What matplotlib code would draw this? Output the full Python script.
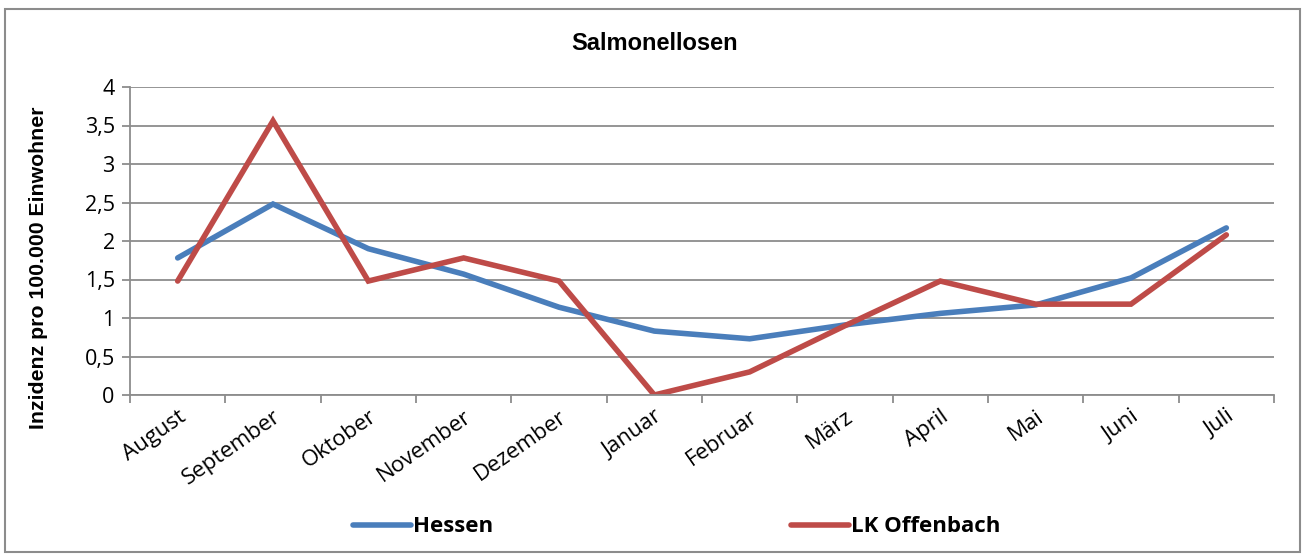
import matplotlib
matplotlib.use('Agg')
import matplotlib.pyplot as plt
from matplotlib.patches import Rectangle
from matplotlib.ticker import FuncFormatter, MultipleLocator, FixedLocator

# Monate und Inzidenzen (pro 100.000 Einwohner)
monate = ['August', 'September', 'Oktober', 'November', 'Dezember', 'Januar',
          'Februar', 'März', 'April', 'Mai', 'Juni', 'Juli']
hessen = [1.78, 2.48, 1.90, 1.57, 1.14, 0.83, 0.73, 0.91, 1.06, 1.17, 1.52, 2.17]
offenbach = [1.48, 3.56, 1.48, 1.78, 1.48, 0.0, 0.30, 0.90, 1.48, 1.18, 1.18, 2.08]

W, H = 1307, 556
fig = plt.figure(figsize=(W / 100, H / 100), dpi=100)
ax = fig.add_axes([130 / W, 1 - 395 / H, (1274 - 130) / W, (395 - 87) / H])

x = list(range(len(monate)))
ax.plot(x, hessen, color='#4a7ebb', lw=4, solid_capstyle='round', solid_joinstyle='miter', label='Hessen')
ax.plot(x, offenbach, color='#be4b48', lw=4, solid_capstyle='round', solid_joinstyle='miter', label='LK Offenbach')

ax.set_xlim(-0.5, len(monate) - 0.5)
ax.set_ylim(0, 4)
ax.yaxis.set_major_locator(MultipleLocator(0.5))
ax.yaxis.set_major_formatter(FuncFormatter(lambda v, p: ('%g' % v).replace('.', ',')))
ax.grid(axis='y', color='#8c8c8c', lw=1.3)
ax.set_axisbelow(True)

# Kategorien: Striche zwischen den Monaten
ax.xaxis.set_major_locator(FixedLocator(x))
ax.set_xticklabels(monate, rotation=35, ha='right', rotation_mode='anchor',
                   family='Open Sans', fontsize=16)
ax.xaxis.set_minor_locator(FixedLocator([i - 0.5 for i in range(len(monate) + 1)]))
ax.tick_params(axis='x', which='major', length=0, pad=8)
ax.tick_params(axis='x', which='minor', length=6, color='#8c8c8c', width=1.3)
ax.tick_params(axis='y', length=6, color='#8c8c8c', width=1.3, labelsize=15.5, pad=5)
for lab in ax.get_yticklabels():
    lab.set_family('Open Sans')

for s in ['top', 'right']:
    ax.spines[s].set_visible(False)
for s in ['left', 'bottom']:
    ax.spines[s].set_color('#8c8c8c')
    ax.spines[s].set_linewidth(1.3)

ax.set_ylabel('Inzidenz pro 100.000 Einwohner', family='Liberation Sans',
              fontweight='bold', fontsize=15.3, va='center')
ax.yaxis.set_label_coords((39 - 130) / 1144, (395 - 268) / 308)
fig.text(655 / W, 1 - 43 / H, 'Salmonellosen', ha='center', va='center',
         family='Liberation Sans', fontweight='bold', fontsize=17)

fig.legend(loc='center', bbox_to_anchor=(677 / W, 1 - 527 / H), ncol=2, frameon=False,
           handlelength=2.6, handletextpad=0.1, columnspacing=13.4,
           prop={'family': 'Open Sans', 'weight': 'bold', 'size': 16})

fig.patches.append(Rectangle((5 / W, 1 - 552 / H), 1295 / W, 543 / H, transform=fig.transFigure,
                             fill=False, edgecolor='#8c8c8c', lw=1.5))

fig.savefig('out.png', dpi=100)
